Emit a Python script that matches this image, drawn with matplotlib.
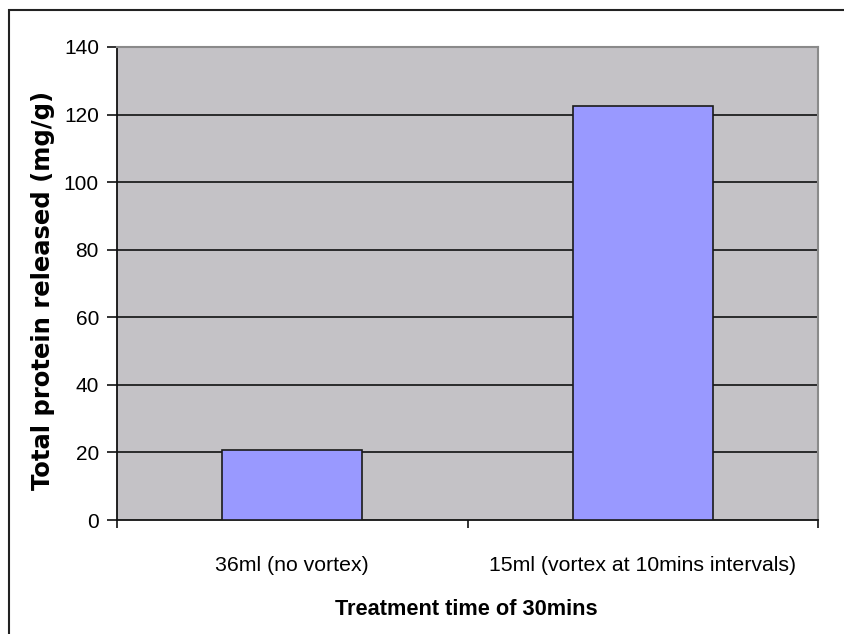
import matplotlib
matplotlib.use("Agg")
import matplotlib.pyplot as plt
from matplotlib.patches import Rectangle

categories = ["36ml (no vortex)", "15ml (vortex at 10mins intervals)"]
values = [20.6, 122.4]
yticks = [0, 20, 40, 60, 80, 100, 120, 140]

W, H = 844, 634
fig = plt.figure(figsize=(W / 100, H / 100), dpi=100)
fig.patch.set_facecolor("white")

# outer chart frame (top and left visible)
fig.patches.append(Rectangle((9 / W, -0.1), 1.2, (H - 10) / H + 0.1, transform=fig.transFigure,
                             fill=False, edgecolor="#222222", linewidth=1.5, zorder=0))

ax = fig.add_axes([117 / W, (H - 520) / H, 701 / W, 473 / H])
ax.set_facecolor("#C4C2C6")

x = list(range(len(categories)))
ax.bar(x, values, width=0.4, color="#9999FF", edgecolor="#1a1a1a", linewidth=1.2, zorder=3)

font = "Liberation Sans"
ax.set_xlim(-0.5, 1.5)
ax.set_ylim(0, 140)
ax.set_yticks(yticks)
ax.set_yticklabels([str(t) for t in yticks], fontfamily=font, fontsize=15)
for t in yticks[1:-1]:
    ax.axhline(t, color="#111111", linewidth=1.2, zorder=2)

ax.set_xticks([-0.5, 0.5, 1.5])
ax.set_xticklabels([])
ax.set_xticks(x, minor=True)
ax.set_xticklabels(categories, minor=True, fontfamily=font, fontsize=15.3)
ax.tick_params(axis="x", which="minor", length=0, pad=37, labelsize=15.3)
for lab in ax.get_xticklabels(minor=True):
    lab.set_verticalalignment("baseline")
ax.tick_params(axis="x", which="major", length=6, width=1.2, direction="out", color="#111111")
ax.tick_params(axis="y", length=7, width=1.2, direction="out", color="#111111", pad=6)

for s in ["top", "right"]:
    ax.spines[s].set_color("#8a8a8a")
    ax.spines[s].set_linewidth(1.5)
for s in ["left", "bottom"]:
    ax.spines[s].set_color("#111111")
    ax.spines[s].set_linewidth(1.3)

fig.text(466 / W, 1 - 615 / H, "Treatment time of 30mins", ha="center", va="baseline",
         fontfamily=font, fontweight="bold", fontsize=15.7)
fig.text(43 / W, 1 - 290 / H, "Total protein released (mg/g)", ha="center", va="center",
         rotation=90, fontfamily="DejaVu Sans", fontweight="bold", fontsize=17.5)

fig.savefig("out.png", dpi=100)
